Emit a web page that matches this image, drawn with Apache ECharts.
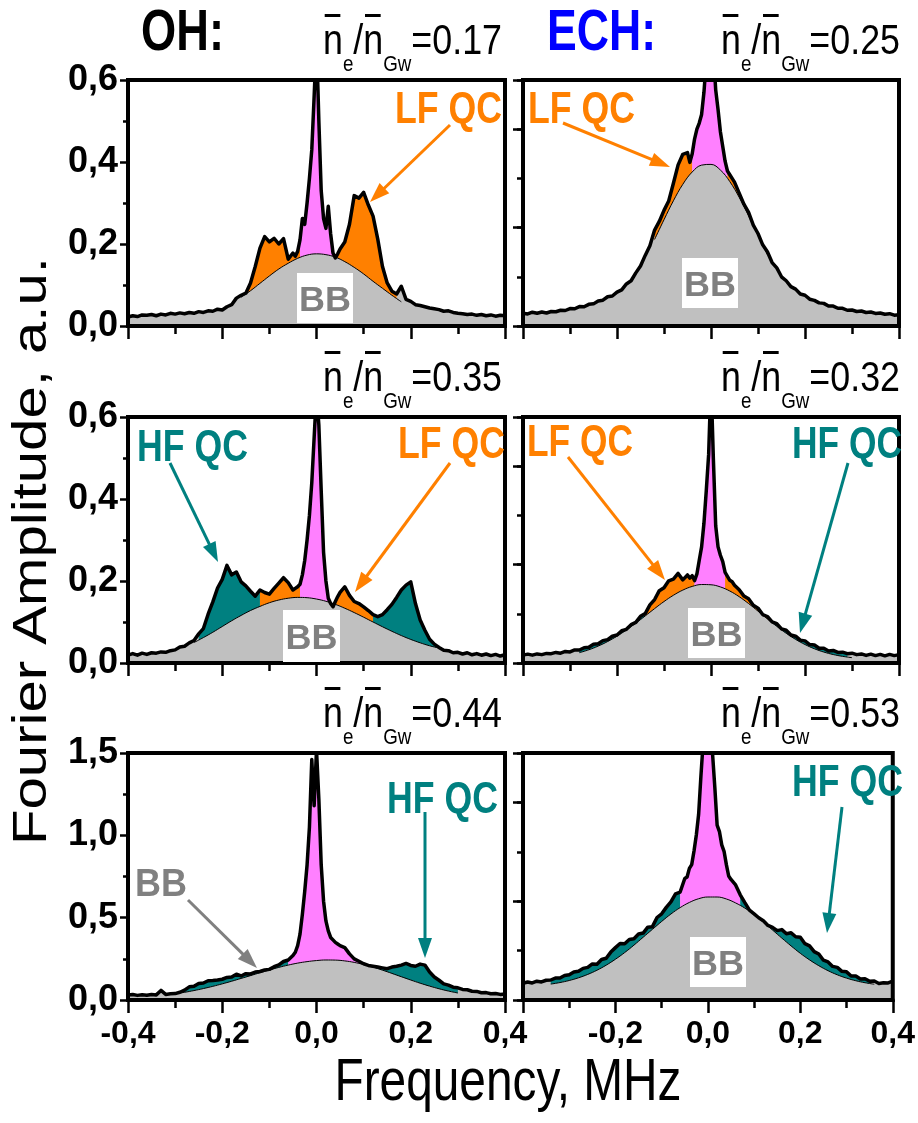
<!DOCTYPE html>
<html>
<head>
<meta charset="utf-8">
<script src="https://cdn.jsdelivr.net/npm/echarts@6/dist/echarts.min.js"></script>
<style>
  html, body { margin: 0; padding: 0; background: #fff; }
  #chart { width: 918px; height: 1123px; }
</style>
</head>
<body>
<div id="chart"></div>
<script>
// Frequency grid of the measured spectra (MHz), finer around the central peak
const FREQ = [
  -0.40,-0.39,-0.38,-0.37,-0.36,-0.35,-0.34,-0.33,-0.32,-0.31,
  -0.30,-0.29,-0.28,-0.27,-0.26,-0.25,-0.24,-0.23,-0.22,-0.21,
  -0.20,-0.19,-0.18,-0.17,-0.16,-0.15,-0.14,-0.13,-0.12,-0.11,
  -0.10,-0.09,-0.08,-0.07,-0.06,
  -0.05,-0.045,-0.04,-0.035,-0.03,-0.025,-0.02,-0.015,-0.01,-0.005,
  0,0.005,0.01,0.015,0.02,0.025,0.03,0.035,0.04,0.045,0.05,
  0.06,0.07,0.08,0.09,0.10,0.11,0.12,0.13,0.14,0.15,
  0.16,0.17,0.18,0.19,0.20,0.21,0.22,0.23,0.24,0.25,
  0.26,0.27,0.28,0.29,0.30,0.31,0.32,0.33,0.34,0.35,
  0.36,0.37,0.38,0.39,0.40
];
// Frequency grid of the broadband (BB) fits
const BB_FREQ = [
  -0.40,-0.38,-0.36,-0.34,-0.32,-0.30,-0.28,-0.26,-0.24,-0.22,
  -0.20,-0.18,-0.16,-0.14,-0.12,-0.10,-0.08,-0.06,-0.04,-0.02,
  0.00,0.02,0.04,0.06,0.08,0.10,0.12,0.14,0.16,0.18,
  0.20,0.22,0.24,0.26,0.28,0.30,0.32,0.34,0.36,0.38,0.40
];

// OH, ne/nGw = 0.17
const OH017 = [
  0.022,0.025,0.023,0.027,0.026,0.028,0.025,0.029,0.027,0.031,
  0.029,0.032,0.030,0.033,0.031,0.035,0.033,0.037,0.036,0.041,
  0.039,0.047,0.052,0.068,0.075,0.080,0.105,0.145,0.190,0.218,
  0.205,0.214,0.200,0.213,0.163,
  0.178,0.170,0.182,0.210,0.262,0.248,0.300,0.360,0.430,0.560,
  0.700,0.500,0.330,0.262,0.238,0.292,0.225,0.178,0.166,0.176,0.188,
  0.205,0.248,0.318,0.312,0.326,0.295,0.268,0.212,0.145,0.105,
  0.085,0.078,0.097,0.065,0.060,0.052,0.050,0.047,0.044,0.042,
  0.040,0.036,0.037,0.033,0.031,0.030,0.028,0.029,0.026,0.028,
  0.025,0.027,0.024,0.026,0.025
];
const OH017_BB = [
  0.0006,0.0011,0.0018,0.003,0.0047,0.0072,0.011,0.016,0.0227,0.031,
  0.042,0.055,0.070,0.086,0.104,0.122,0.139,0.153,0.165,0.173,
  0.176,0.174,0.168,0.157,0.143,0.127,0.109,0.092,0.075,0.059,
  0.046,0.034,0.025,0.018,0.012,0.0082,0.0054,0.0034,0.0021,0.0013,0.0007
];
const SEG_OH017 = [[-0.15,-0.035,'LF'],[-0.035,0.035,'CP'],[0.035,0.17,'LF']];

// ECH, ne/nGw = 0.25
const ECH025 = [
  0.052,0.049,0.056,0.052,0.057,0.053,0.059,0.058,0.064,0.063,
  0.071,0.070,0.079,0.078,0.088,0.090,0.102,0.105,0.119,0.122,
  0.138,0.147,0.171,0.184,0.216,0.244,0.287,0.326,0.390,0.425,
  0.470,0.508,0.580,0.655,0.698,
  0.705,0.665,0.700,0.760,0.800,0.825,0.860,0.950,1.080,1.200,
  1.250,1.120,0.960,0.880,0.790,0.730,0.670,0.630,0.615,0.600,0.585,
  0.540,0.495,0.462,0.410,0.376,0.330,0.302,0.258,0.236,0.200,
  0.184,0.160,0.150,0.130,0.125,0.109,0.104,0.094,0.092,0.081,
  0.081,0.072,0.072,0.064,0.065,0.059,0.061,0.055,0.057,0.051,
  0.053,0.048,0.050,0.044,0.046
];
const ECH025_BB = [
  0.0003,0.0006,0.0013,0.0027,0.0051,0.0093,0.0163,0.0275,0.0447,0.0697,
  0.1043,0.150,0.2076,0.276,0.352,0.432,0.509,0.576,0.626,0.654,
  0.657,0.634,0.587,0.523,0.4475,0.368,0.290,0.2204,0.161,0.1126,
  0.0758,0.049,0.0304,0.0182,0.0104,0.0057,0.003,0.0016,0.0008,0.0004,0.0002
];
const SEG_ECH025 = [[-0.12,-0.04,'LF'],[-0.04,0.035,'CP'],[0.035,0.12,'LF']];

// OH, ne/nGw = 0.35
const OH035 = [
  0.019,0.023,0.019,0.024,0.021,0.025,0.024,0.027,0.026,0.030,
  0.032,0.039,0.041,0.049,0.055,0.071,0.084,0.119,0.149,0.183,
  0.204,0.238,0.215,0.222,0.198,0.188,0.175,0.163,0.178,0.172,
  0.168,0.182,0.195,0.208,0.196,
  0.178,0.182,0.186,0.192,0.215,0.250,0.300,0.360,0.440,0.550,
  0.660,0.580,0.420,0.270,0.200,0.158,0.145,0.137,0.150,0.162,0.172,
  0.186,0.165,0.150,0.145,0.137,0.128,0.118,0.113,0.118,0.130,
  0.143,0.160,0.178,0.190,0.198,0.145,0.105,0.080,0.058,0.046,
  0.038,0.031,0.030,0.025,0.026,0.022,0.025,0.020,0.023,0.019,
  0.022,0.018,0.021,0.017,0.020
];
const OH035_BB = [
  0.015,0.017,0.019,0.022,0.026,0.032,0.040,0.050,0.062,0.075,
  0.089,0.103,0.116,0.128,0.138,0.147,0.1536,0.158,0.160,0.1593,
  0.156,0.1506,0.143,0.1336,0.123,0.1117,0.100,0.0884,0.0773,0.0669,
  0.0575,0.0492,0.042,0.036,0.028,0.023,0.020,0.017,0.015,0.014,0.013
];
const SEG_OH035 = [[-0.25,-0.12,'HF'],[-0.12,-0.035,'LF'],[-0.035,0.03,'CP'],[0.03,0.12,'LF'],[0.12,0.27,'HF']];

// ECH, ne/nGw = 0.32
const ECH032 = [
  0.032,0.036,0.032,0.037,0.034,0.039,0.038,0.043,0.040,0.047,
  0.045,0.053,0.053,0.062,0.064,0.076,0.078,0.091,0.095,0.109,
  0.114,0.131,0.137,0.156,0.165,0.190,0.201,0.236,0.258,0.294,
  0.306,0.334,0.341,0.364,0.338,
  0.358,0.345,0.355,0.335,0.362,0.418,0.472,0.568,0.702,0.848,
  1.150,0.832,0.558,0.472,0.438,0.412,0.368,0.352,0.336,0.330,0.316,
  0.298,0.272,0.261,0.235,0.223,0.197,0.189,0.167,0.160,0.139,
  0.133,0.114,0.109,0.093,0.090,0.075,0.073,0.060,0.060,0.049,
  0.051,0.043,0.044,0.038,0.040,0.034,0.037,0.031,0.036,0.030,
  0.035,0.029,0.035,0.030,0.034
];
const ECH032_BB = [
  0.0144,0.0159,0.0181,0.0215,0.0262,0.0329,0.0419,0.0537,0.0687,0.0872,
  0.109,0.1342,0.1619,0.1913,0.2211,0.2498,0.2753,0.2963,0.3113,0.319,
  0.318,0.3092,0.2926,0.2695,0.2415,0.2108,0.1793,0.1489,0.1207,0.096,
  0.075,0.0579,0.0445,0.0344,0.027,0.0217,0.0181,0.0158,0.0142,0.0133,0.0127
];
const SEG_ECH032 = [[-0.28,-0.14,'HF'],[-0.14,-0.035,'LF'],[-0.035,0.03,'CP'],[0.03,0.13,'LF'],[0.13,0.29,'HF']];

// OH, ne/nGw = 0.44
const OH044 = [
  0.030,0.033,0.028,0.032,0.029,0.034,0.031,0.058,0.034,0.038,
  0.039,0.047,0.060,0.080,0.083,0.100,0.103,0.117,0.118,0.121,
  0.126,0.137,0.140,0.157,0.146,0.160,0.158,0.170,0.173,0.182,
  0.186,0.202,0.213,0.234,0.243,
  0.270,0.290,0.330,0.400,0.520,0.660,0.820,1.050,1.460,1.180,
  1.520,1.220,0.820,0.600,0.480,0.420,0.380,0.365,0.350,0.340,0.330,
  0.318,0.280,0.250,0.235,0.220,0.210,0.205,0.200,0.195,0.190,
  0.200,0.205,0.212,0.222,0.210,0.205,0.218,0.212,0.170,0.140,
  0.120,0.098,0.090,0.078,0.074,0.064,0.062,0.053,0.052,0.044,
  0.045,0.038,0.040,0.034,0.036
];
const OH044_BB = [
  0.010,0.0135,0.0177,0.023,0.0296,0.0374,0.0466,0.0573,0.0695,0.083,
  0.098,0.114,0.131,0.148,0.1655,0.182,0.198,0.212,0.224,0.233,
  0.2395,0.243,0.2423,0.2375,0.2284,0.2156,0.1995,0.1813,0.1616,0.1413,
  0.1213,0.102,0.0843,0.0683,0.0543,0.0424,0.0324,0.0244,0.018,0.013,0.0092
];
const SEG_OH044 = [[-0.30,-0.06,'HF'],[-0.06,0.09,'CP'],[0.09,0.30,'HF']];

// ECH, ne/nGw = 0.53
const ECH053 = [
  0.068,0.073,0.069,0.076,0.073,0.080,0.081,0.089,0.089,0.099,
  0.102,0.113,0.116,0.128,0.132,0.146,0.145,0.164,0.169,0.194,
  0.212,0.229,0.228,0.245,0.248,0.267,0.271,0.295,0.297,0.334,
  0.349,0.375,0.397,0.430,0.437,
  0.492,0.498,0.533,0.548,0.603,0.668,0.752,0.908,1.050,1.200,
  1.300,1.200,1.000,0.862,0.708,0.682,0.628,0.602,0.548,0.502,0.488,
  0.466,0.426,0.394,0.364,0.349,0.333,0.321,0.302,0.294,0.281,
  0.285,0.268,0.272,0.256,0.254,0.228,0.219,0.196,0.186,0.161,
  0.154,0.136,0.132,0.116,0.114,0.097,0.097,0.085,0.086,0.076,
  0.077,0.067,0.070,0.069,0.076
];
const ECH053_BB = [
  0.054,0.0565,0.0598,0.0644,0.0706,0.0789,0.0898,0.1035,0.1205,0.141,
  0.165,0.192,0.222,0.254,0.286,0.318,0.348,0.374,0.395,0.410,
  0.417,0.417,0.409,0.393,0.372,0.345,0.315,0.283,0.2506,0.219,
  0.189,0.1624,0.1388,0.1187,0.102,0.0886,0.078,0.0699,0.0638,0.0594,0.0563
];
const SEG_ECH053 = [[-0.34,-0.06,'HF'],[-0.06,0.07,'CP'],[0.07,0.35,'HF']];

const DENSITY = ['0.17', '0.25', '0.35', '0.32', '0.44', '0.53'];
const SCENARIOS = ['OH:', 'ECH:'];
const X_TITLE = 'Frequency, MHz';
const Y_TITLE = 'Fourier Amplitude, a.u.';

// ---- styling ----
const GRAY = '#c0c0c0';
const COLORS = { LF: '#ff8000', HF: '#008080', CP: '#ff80ff' };
const FONT = '"Liberation Sans", Arial, Helvetica, sans-serif';

const COL_LEFT = [128, 523];
const COL_WIDTH = [377, 376];
const ROW_TOP = [80, 417, 753];
const ROW_HEIGHT = [246, 246, 247];

const PANELS = [
  { amp: OH017,  bb: OH017_BB,  segs: SEG_OH017,  col: 0, row: 0, yMax: 0.6 },
  { amp: ECH025, bb: ECH025_BB, segs: SEG_ECH025, col: 1, row: 0, yMax: 1.0 },
  { amp: OH035,  bb: OH035_BB,  segs: SEG_OH035,  col: 0, row: 1, yMax: 0.6 },
  { amp: ECH032, bb: ECH032_BB, segs: SEG_ECH032, col: 1, row: 1, yMax: 1.0 },
  { amp: OH044,  bb: OH044_BB,  segs: SEG_OH044,  col: 0, row: 2, yMax: 1.5 },
  { amp: ECH053, bb: ECH053_BB, segs: SEG_ECH053, col: 1, row: 2, yMax: 1.0 }
];

const comma = v => (Math.round(v * 10) / 10).toFixed(1).replace('.', ',');
const mctx = document.createElement('canvas').getContext('2d');
function textWidth(text, font) { mctx.font = font; return mctx.measureText(text).width; }

const grids = [], xAxes = [], yAxes = [], series = [];
const black = { color: '#000', width: 2.5 };
const overlays = [];   // long-tick axes for the unlabelled ECH panels

PANELS.forEach((p, gi) => {
  const rect = { left: COL_LEFT[p.col], top: ROW_TOP[p.row], width: COL_WIDTH[p.col], height: ROW_HEIGHT[p.row] };
  grids.push(Object.assign({ show: true, borderColor: '#000', borderWidth: 4,
                             backgroundColor: 'transparent', z: 10 }, rect));
  xAxes.push({
    type: 'value', gridIndex: gi, position: 'bottom', min: -0.4, max: 0.4, interval: 0.2, z: 10,
    axisLine: { show: true, onZero: false, lineStyle: { color: '#000', width: 4 } },
    axisTick: { show: true, inside: false, length: 13, lineStyle: black },
    minorTick: { show: true, splitNumber: 2, length: 8, lineStyle: black },
    splitLine: { show: false }, minorSplitLine: { show: false },
    axisLabel: {
      show: p.row === 2, showMinLabel: p.col === 0, formatter: comma,
      color: '#000', fontFamily: FONT, fontWeight: 'bold', fontSize: 32, margin: 18
    }
  });
  const yi = yAxes.length;
  if (p.col === 0) {
    yAxes.push({
      type: 'value', gridIndex: gi, position: 'left', min: 0, max: p.yMax, interval: p.yMax / 3, z: 10,
      axisLine: { show: true, onZero: false, lineStyle: { color: '#000', width: 4 } },
      axisTick: { show: true, inside: false, length: 8, lineStyle: black },
      minorTick: { show: true, splitNumber: 2, length: 5, lineStyle: black },
      splitLine: { show: false }, minorSplitLine: { show: false },
      axisLabel: { show: true, formatter: comma, color: '#000', fontFamily: FONT,
                   fontWeight: 'bold', fontSize: 36, margin: 10 }
    });
  } else {
    // short ticks every 0.2 on the unlabelled ECH axis
    yAxes.push({
      type: 'value', gridIndex: gi, position: 'left', min: 0, max: p.yMax, interval: 0.2, z: 10,
      axisLine: { show: true, onZero: false, lineStyle: { color: '#000', width: 4 } },
      axisTick: { show: true, inside: false, length: 6, lineStyle: black },
      splitLine: { show: false }, axisLabel: { show: false }
    });
    overlays.push({ rect: rect, yMax: p.yMax });
  }

  const base = { type: 'line', xAxisIndex: gi, yAxisIndex: yi, symbol: 'none',
                 silent: true, animation: false, clip: true };
  const spectrum = FREQ.map((f, i) => [f, p.amp[i]]);
  const fit = BB_FREQ.map((f, i) => [f, p.bb[i]]);
  const hidden = { width: 0, opacity: 0 };

  // whole spectrum filled grey
  series.push(Object.assign({}, base, { data: spectrum, lineStyle: hidden,
    areaStyle: { color: GRAY, opacity: 1 }, z: 2 }));
  // coloured components (LF QC, HF QC, central peak)
  p.segs.forEach(s => {
    series.push(Object.assign({}, base, {
      data: spectrum.filter(q => q[0] >= s[0] - 1e-9 && q[0] <= s[1] + 1e-9),
      lineStyle: hidden, areaStyle: { color: COLORS[s[2]], opacity: 1 }, z: 3
    }));
  });
  // broadband fit, grey under the curve
  series.push(Object.assign({}, base, { data: fit, smooth: 0.4, lineStyle: hidden,
    areaStyle: { color: GRAY, opacity: 1 }, z: 4 }));
  const lo = p.segs[0][0], hi = p.segs[p.segs.length - 1][1];
  series.push(Object.assign({}, base, {
    data: fit.filter(q => q[0] >= lo - 0.011 && q[0] <= hi + 0.011), smooth: 0.4,
    lineStyle: { color: '#000', width: 1 }, z: 5
  }));
  // measured spectrum
  series.push(Object.assign({}, base, { data: spectrum,
    lineStyle: { color: '#000', width: 3.5, join: 'round' }, z: 6 }));
});

// long ticks every 0.4 of the ECH panels, on overlaid grids
overlays.forEach(e => {
  const gi = grids.length;
  grids.push(Object.assign({ show: false }, e.rect));
  xAxes.push({ type: 'value', gridIndex: gi, min: -0.4, max: 0.4, show: false });
  yAxes.push({
    type: 'value', gridIndex: gi, position: 'left', min: 0, max: e.yMax, interval: 0.4, z: 11,
    axisLine: { show: true, onZero: false, lineStyle: { color: '#000', width: 4 } },
    axisTick: { show: true, inside: false, length: 10, lineStyle: black },
    splitLine: { show: false }, axisLabel: { show: false }
  });
});

// ---- annotations ----
const graphic = [];
function fitText(text, x, y, width, font, color, align) {
  const w = textWidth(text, font);
  return { type: 'text', x: x, y: y, scaleX: width / w, z: 100,
           style: { text: text, font: font, fill: color, align: align || 'left', verticalAlign: 'middle' } };
}
function arrow(x1, y1, x2, y2, color) {
  const dx = x2 - x1, dy = y2 - y1, L = Math.hypot(dx, dy), ux = dx / L, uy = dy / L;
  const hl = 20, hw = 7, bx = x2 - ux * hl, by = y2 - uy * hl;
  graphic.push({ type: 'line', z: 100, shape: { x1: x1, y1: y1, x2: bx + ux * 2, y2: by + uy * 2 },
                 style: { stroke: color, lineWidth: 3 } });
  graphic.push({ type: 'polygon', z: 100,
                 shape: { points: [[x2, y2], [bx - uy * hw, by + ux * hw], [bx + uy * hw, by - ux * hw]] },
                 style: { fill: color } });
}
function bbBox(x, y, w, h) {
  graphic.push({ type: 'rect', z: 100, shape: { x: x, y: y, width: w, height: h }, style: { fill: '#fff' } });
  graphic.push(fitText('BB', x + w / 2, y + h / 2 + 3, 52, 'bold 35px ' + FONT, '#808080', 'center'));
}
function density(x0, top, val) {
  const big = '42px ' + FONT, small = '22px ' + FONT;
  const parts = [['n', big, true], ['e', small, false], ['/', big, false],
                 ['n', big, true], ['Gw', small, false], ['=' + val, big, false]];
  let cx = 0;
  const children = [];
  parts.forEach(pt => {
    const w = textWidth(pt[0], pt[1]);
    const isBig = pt[1] === big;
    children.push({ type: 'text', x: cx, y: isBig ? -23 - 0.3465 * 42 : -7 - 0.3465 * 22, z: 100,
                    style: { text: pt[0], font: pt[1], fill: '#000', align: 'left', verticalAlign: 'middle' } });
    if (pt[2]) children.push({ type: 'rect', z: 100, shape: { x: cx + 2, y: -66, width: w - 5, height: 3 },
                               style: { fill: '#000' } });
    cx += w;
  });
  graphic.push({ type: 'group', x: x0, y: top, scaleX: 179 / cx, children: children, z: 100 });
}

const lbl = 'bold 44px ' + FONT;
graphic.push(fitText(SCENARIOS[0], 141, 34, 83, 'bold 58px ' + FONT, '#000'));
graphic.push(fitText(SCENARIOS[1], 547, 34, 109, 'bold 58px ' + FONT, '#0000ff'));
PANELS.forEach((p, i) => density(p.col === 0 ? 323 : 721, ROW_TOP[p.row], DENSITY[i]));

// OH 0.17
graphic.push(fitText('LF QC', 395, 111, 107, lbl, COLORS.LF));
arrow(450, 125, 370, 202, COLORS.LF);
bbBox(297, 273, 56, 50);
// ECH 0.25
graphic.push(fitText('LF QC', 528, 111, 107, lbl, COLORS.LF));
arrow(563, 123, 670, 167, COLORS.LF);
bbBox(682, 258, 56, 50);
// OH 0.35
graphic.push(fitText('HF QC', 137, 449, 111, lbl, COLORS.HF));
arrow(170, 463, 218, 562, COLORS.HF);
graphic.push(fitText('LF QC', 398, 446, 107, lbl, COLORS.LF));
arrow(450, 463, 355, 592, COLORS.LF);
bbBox(283, 610, 57, 52);
// ECH 0.32
graphic.push(fitText('LF QC', 527, 444, 106, lbl, COLORS.LF));
arrow(568, 457, 665, 580, COLORS.LF);
graphic.push(fitText('HF QC', 792, 446, 110, lbl, COLORS.HF));
arrow(848, 463, 800, 633, COLORS.HF);
bbBox(688, 608, 57, 50);
// OH 0.44
graphic.push(fitText('HF QC', 387, 801, 111, lbl, COLORS.HF));
arrow(425, 812, 425, 958, COLORS.HF);
graphic.push(fitText('BB', 135, 886, 52, 'bold 38px ' + FONT, '#808080'));
arrow(188, 900, 257, 968, '#808080');
// ECH 0.53
graphic.push(fitText('HF QC', 792, 784, 111, lbl, COLORS.HF));
arrow(842, 807, 827, 933, COLORS.HF);
bbBox(690, 937, 56, 50);

// axis titles
graphic.push(fitText(X_TITLE, 508, 1083, 347, '60px ' + FONT, '#000', 'center'));
(function () {
  const f = '58px ' + FONT;
  const w = textWidth(Y_TITLE, f);
  graphic.push({ type: 'text', x: 33, y: 551, rotation: Math.PI / 2, scaleX: 588 / w, scaleY: 0.84, z: 100,
                 style: { text: Y_TITLE, font: f, fill: '#000', align: 'center', verticalAlign: 'middle' } });
})();

const chart = echarts.init(document.getElementById('chart'), null, { renderer: 'canvas', width: 918, height: 1123 });
chart.setOption({
  animation: false,
  backgroundColor: '#fff',
  grid: grids, xAxis: xAxes, yAxis: yAxes, series: series, graphic: graphic
});
</script>
</body>
</html>
